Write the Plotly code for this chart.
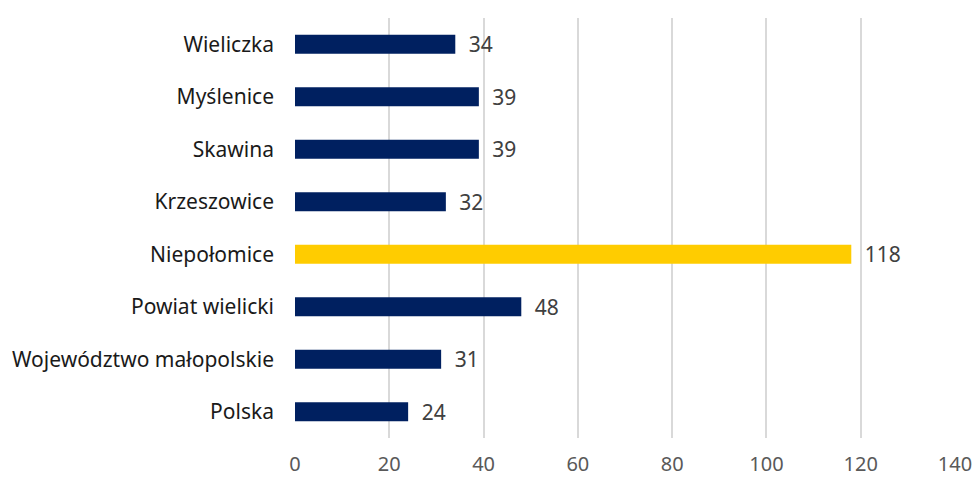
import plotly.graph_objects as go

categories = ["Wieliczka", "Myślenice", "Skawina", "Krzeszowice", "Niepołomice",
              "Powiat wielicki", "Województwo małopolskie", "Polska"]
values = [34, 39, 39, 32, 118, 48, 31, 24]
highlight = "Niepołomice"

colors = ["#FFCC00" if c == highlight else "#002060" for c in categories]

fig = go.Figure()
fig.add_trace(go.Bar(
    y=categories,
    x=values,
    orientation="h",
    marker=dict(color=colors, line=dict(width=0)),
    width=0.36,
    texttemplate="\u2002%{x}",
    textposition="outside",
    constraintext="none",
    textfont=dict(size=21, color="#404040", family="Noto Sans"),
    cliponaxis=False,
))

fig.update_layout(
    width=976,
    height=480,
    margin=dict(l=295, r=21, t=18, b=42),
    plot_bgcolor="white",
    paper_bgcolor="white",
    showlegend=False,
    font=dict(family="Noto Sans", size=21, color="#404040"),
    xaxis=dict(
        range=[0, 140],
        tickvals=[0, 20, 40, 60, 80, 100, 120, 140],
        showgrid=True,
        gridcolor="#d9d9d9",
        gridwidth=1.5,
        zeroline=False,
        showline=False,
        automargin=False,
        tickfont=dict(size=20, color="#595959"),
        ticklabelstandoff=12,
    ),
    yaxis=dict(
        autorange="reversed",
        showgrid=False,
        zeroline=False,
        showline=False,
        automargin=False,
        tickfont=dict(size=21, color="#1a1a1a"),
        ticklabelstandoff=20,
    ),
)

# page margin off so the 976x480 figure sits at the window origin
fig.write_html("out.html", config={"displayModeBar": False},
               post_script="document.body.style.margin='0';")
